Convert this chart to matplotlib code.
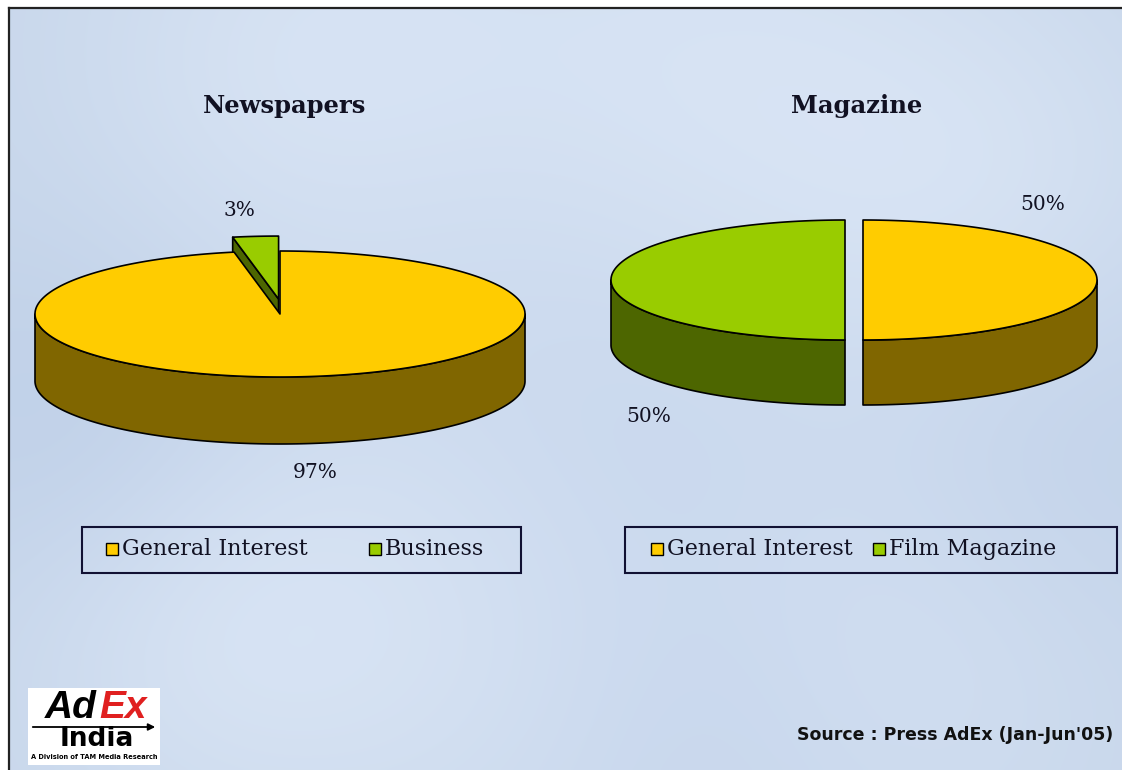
import numpy as np
import matplotlib.pyplot as plt
from matplotlib.patches import Polygon, Rectangle

# chart data
news_title = "Newspapers"
news_labels = ["General Interest", "Business"]
news_values = [97, 3]
news_pct = ["97%", "3%"]

mag_title = "Magazine"
mag_labels = ["General Interest", "Film Magazine"]
mag_values = [50, 50]
mag_pct = ["50%", "50%"]

source_text = "Source : Press AdEx (Jan-Jun'05)"

top_colors = ["#FFCC00", "#99CC00"]
side_colors = ["#806600", "#4D6600"]

W, H = 1122, 770
fig = plt.figure(figsize=(W / 100, H / 100), dpi=100)
ax = fig.add_axes([0, 0, 1, 1])
ax.set_xlim(0, W)
ax.set_ylim(H, 0)
ax.axis("off")
fig.patch.set_facecolor("white")

# soft blue backdrop
yy, xx = np.mgrid[0:H:2, 0:W:2].astype(float)
base = np.array([0.78, 0.84, 0.92])
light = np.zeros_like(xx)
for bx, by, s, a in [(320, 70, 180, 0.7), (720, 60, 200, 0.6), (520, 600, 220, 0.6),
                     (1000, 200, 160, 0.5), (200, 620, 150, 0.5), (900, 650, 180, 0.4)]:
    light += a * np.exp(-((xx - bx) ** 2 + (yy - by) ** 2) / (2 * s ** 2))
dark = np.zeros_like(xx)
for bx, by, s, a in [(80, 420, 140, 0.6), (620, 460, 160, 0.5), (1050, 420, 150, 0.5),
                     (420, 190, 150, 0.3), (700, 720, 140, 0.5)]:
    dark += a * np.exp(-((xx - bx) ** 2 + (yy - by) ** 2) / (2 * s ** 2))
img = base[None, None, :] + 0.09 * light[..., None] * np.array([1.0, 0.8, 0.55]) \
    - 0.06 * dark[..., None] * np.array([1.0, 0.8, 0.4])
img = np.clip(img, 0, 1)
ax.imshow(img, extent=(9, W, H, 8), aspect="auto", zorder=0, interpolation="bilinear")
ax.plot([9, 9], [8, H], color="#222222", lw=1.6, zorder=1)
ax.plot([9, W], [8, 8], color="#222222", lw=1.6, zorder=1)


def pt(x0, y0, rx, ry, deg):
    r = np.radians(deg)
    return x0 + rx * np.cos(r), y0 - ry * np.sin(r)


def pie3d(values, cx, cy, rx, ry, depth, explode):
    fr = np.array(values, float) / sum(values)
    bounds = 90 - 360 * np.concatenate([[0], np.cumsum(fr)])
    slices = []
    for i in range(len(values)):
        lo, hi = bounds[i + 1], bounds[i]
        mid = np.radians((lo + hi) / 2)
        slices.append((lo, hi, cx + explode[i] * np.cos(mid), cy - explode[i] * np.sin(mid)))
    kw = dict(ec="black", lw=1.2, joinstyle="round")
    # cut faces
    for i, (lo, hi, x0, y0) in enumerate(slices):
        for ang, nrm in [(hi, hi + 90), (lo, lo - 90)]:
            if np.sin(np.radians(nrm)) < -1e-6:
                px, py = pt(x0, y0, rx, ry, ang)
                ax.add_patch(Polygon([(x0, y0), (px, py), (px, py + depth), (x0, y0 + depth)],
                                     fc=side_colors[i], zorder=2, **kw))
    # outer walls (front half only)
    for i, (lo, hi, x0, y0) in enumerate(slices):
        for k in range(-2, 2):
            a, b = max(lo, 180 + 360 * k), min(hi, 360 + 360 * k)
            if b - a > 0.01:
                t = np.linspace(a, b, 300)
                px, py = pt(x0, y0, rx, ry, t)
                poly = np.column_stack([np.r_[px, px[::-1]], np.r_[py, py[::-1] + depth]])
                ax.add_patch(Polygon(poly, fc=side_colors[i], zorder=3, **kw))
    # tops
    for i, (lo, hi, x0, y0) in enumerate(slices):
        t = np.linspace(lo, hi, 600)
        px, py = pt(x0, y0, rx, ry, t)
        poly = np.column_stack([np.r_[x0, px], np.r_[y0, py]])
        ax.add_patch(Polygon(poly, fc=top_colors[i], zorder=4, **kw))


pie3d(news_values, 280, 314, 245, 63, 67, [0, 15])
pie3d(mag_values, 854, 280, 234, 60, 65, [9, 9])

serif = "DejaVu Serif"
ink = "#111122"
ax.text(285, 106, news_title, ha="center", va="center", fontsize=17.5, fontweight="bold",
        family=serif, color=ink, zorder=5)
ax.text(857, 106, mag_title, ha="center", va="center", fontsize=17.5, fontweight="bold",
        family=serif, color=ink, zorder=5)

for txt, (x, y) in zip(news_pct, [(315, 473), (239, 210)]):
    ax.text(x, y, txt, ha="center", va="center", fontsize=14.5, family=serif, color=ink, zorder=5)
for txt, (x, y) in zip(mag_pct, [(1043, 205), (649, 416)]):
    ax.text(x, y, txt, ha="center", va="center", fontsize=14.5, family=serif, color=ink, zorder=5)


def legend_box(x0, x1, entries):
    ax.add_patch(Rectangle((x0, 527), x1 - x0, 46, fc="none", ec="#111133", lw=1.5, zorder=5))
    for (sx, label), col in zip(entries, top_colors):
        ax.add_patch(Rectangle((sx, 543), 12, 12, fc=col, ec="black", lw=1.0, zorder=6))
        ax.text(sx + 16, 549, label, ha="left", va="center", fontsize=16, family=serif,
                color=ink, zorder=6)


legend_box(82, 521, list(zip([106, 369], news_labels)))
legend_box(625, 1117, list(zip([651, 873], mag_labels)))

ax.text(1113, 735, source_text, ha="right", va="center", fontsize=12.5, fontweight="bold",
        family="DejaVu Sans", color="#111111", zorder=6)

# logo
ax.add_patch(Rectangle((28, 688), 132, 77, fc="white", ec="none", zorder=6))
ax.text(71, 708, "Ad", ha="center", va="center", fontsize=28, fontweight="bold",
        style="italic", family="Liberation Sans", color="black", zorder=7)
ax.text(123, 708, "Ex", ha="center", va="center", fontsize=28, fontweight="bold",
        style="italic", family="Liberation Sans", color="#E02020", zorder=7)
ax.annotate("", xy=(158, 727), xytext=(30, 727),
            arrowprops=dict(arrowstyle="-|>", color="black", lw=1.3), zorder=8)
ax.text(97, 739, "India", ha="center", va="center", fontsize=19, fontweight="bold",
        family="DejaVu Sans", color="black", zorder=7)
ax.text(94, 757, "A Division of TAM Media Research", ha="center", va="center", fontsize=4.8,
        fontweight="bold", family="DejaVu Sans", color="black", zorder=7)

fig.savefig("out.png", dpi=100)
